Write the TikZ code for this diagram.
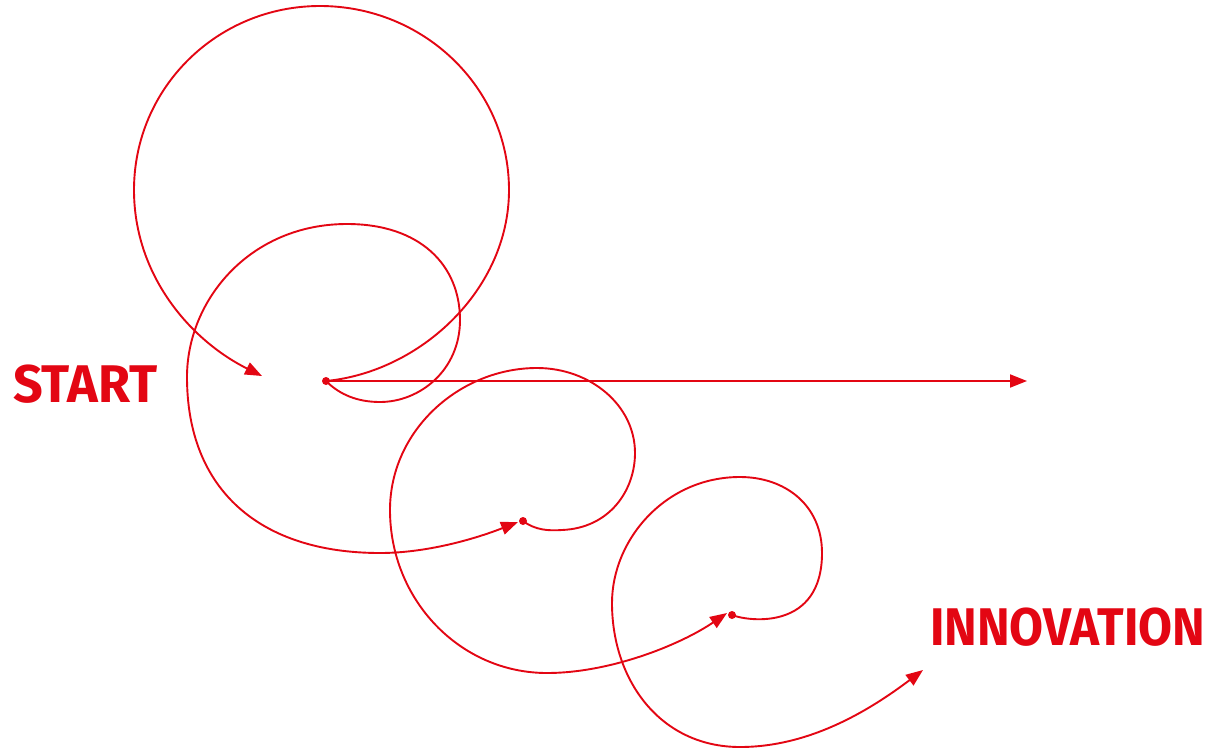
\documentclass[tikz,border=0pt]{standalone}
\usepackage{fontspec}
\usepackage{graphicx}
\setmainfont{Fira Sans}
\usetikzlibrary{arrows.meta}
\definecolor{inno}{RGB}{227,6,19}
\begin{document}
\begin{tikzpicture}[x=1pt,y=-1pt,
  curve/.style={draw=inno,line width=1.9pt,-{Triangle[length=17pt,width=13pt]}},
  dotnode/.style={circle,fill=inno,inner sep=0pt,minimum size=8pt},
  label/.style={text=inno,font=\fontsize{53}{53}\selectfont\bfseries,inner sep=0pt,anchor=base west}]
\useasboundingbox (0,0) rectangle (1213,750);
% dots
\node[dotnode] (d1) at (326,381) {};
\node[dotnode] (d2) at (523,521) {};
\node[dotnode] (d3) at (732,615) {};
% arrow end points
\coordinate (a1) at (262,376);
\coordinate (a2) at (518,522);
\coordinate (a3) at (727,613);
\coordinate (a4) at (923,670);
\coordinate (a5) at (1027,381);
% labels
\node[label] (start) at (13,402) {\resizebox{144pt}{\height}{START}};
\node[label] (innov) at (930,645) {\resizebox{275pt}{\height}{INNOVATION}};
% straight arrow
\draw[curve] (d1.center) -- (a5);
% big circle
\draw[curve] (d1.center) .. controls (420,372) and (509,290) .. (509,190)
  .. controls (509,88) and (424,6) .. (320,6)
  .. controls (217,6) and (134,88) .. (134,190)
  .. controls (134,275) and (190,340) .. (a1);
% loop 2
\draw[curve] (d1.center) .. controls (340,395) and (358,402) .. (380,402)
  .. controls (420,402) and (460,370) .. (460,320)
  .. controls (460,265) and (420,224) .. (347,224)
  .. controls (250,224) and (187,300) .. (187,377)
  .. controls (187,490) and (260,553) .. (380,553)
  .. controls (430,553) and (480,537) .. (a2);
% loop 3
\draw[curve] (d2.center) .. controls (535,530) and (548,531) .. (562,530)
  .. controls (610,528) and (635,490) .. (635,453)
  .. controls (635,405) and (590,368) .. (537,368)
  .. controls (460,368) and (390,430) .. (390,510)
  .. controls (390,600) and (460,673) .. (547,673)
  .. controls (610,673) and (680,645) .. (a3);
% loop 4
\draw[curve] (d3.center) .. controls (750,622) and (822,630) .. (822,553)
  .. controls (822,505) and (785,477) .. (740,477)
  .. controls (665,477) and (612,540) .. (612,603)
  .. controls (612,680) and (660,747) .. (740,747)
  .. controls (810,747) and (870,710) .. (a4);
\end{tikzpicture}
\end{document}
